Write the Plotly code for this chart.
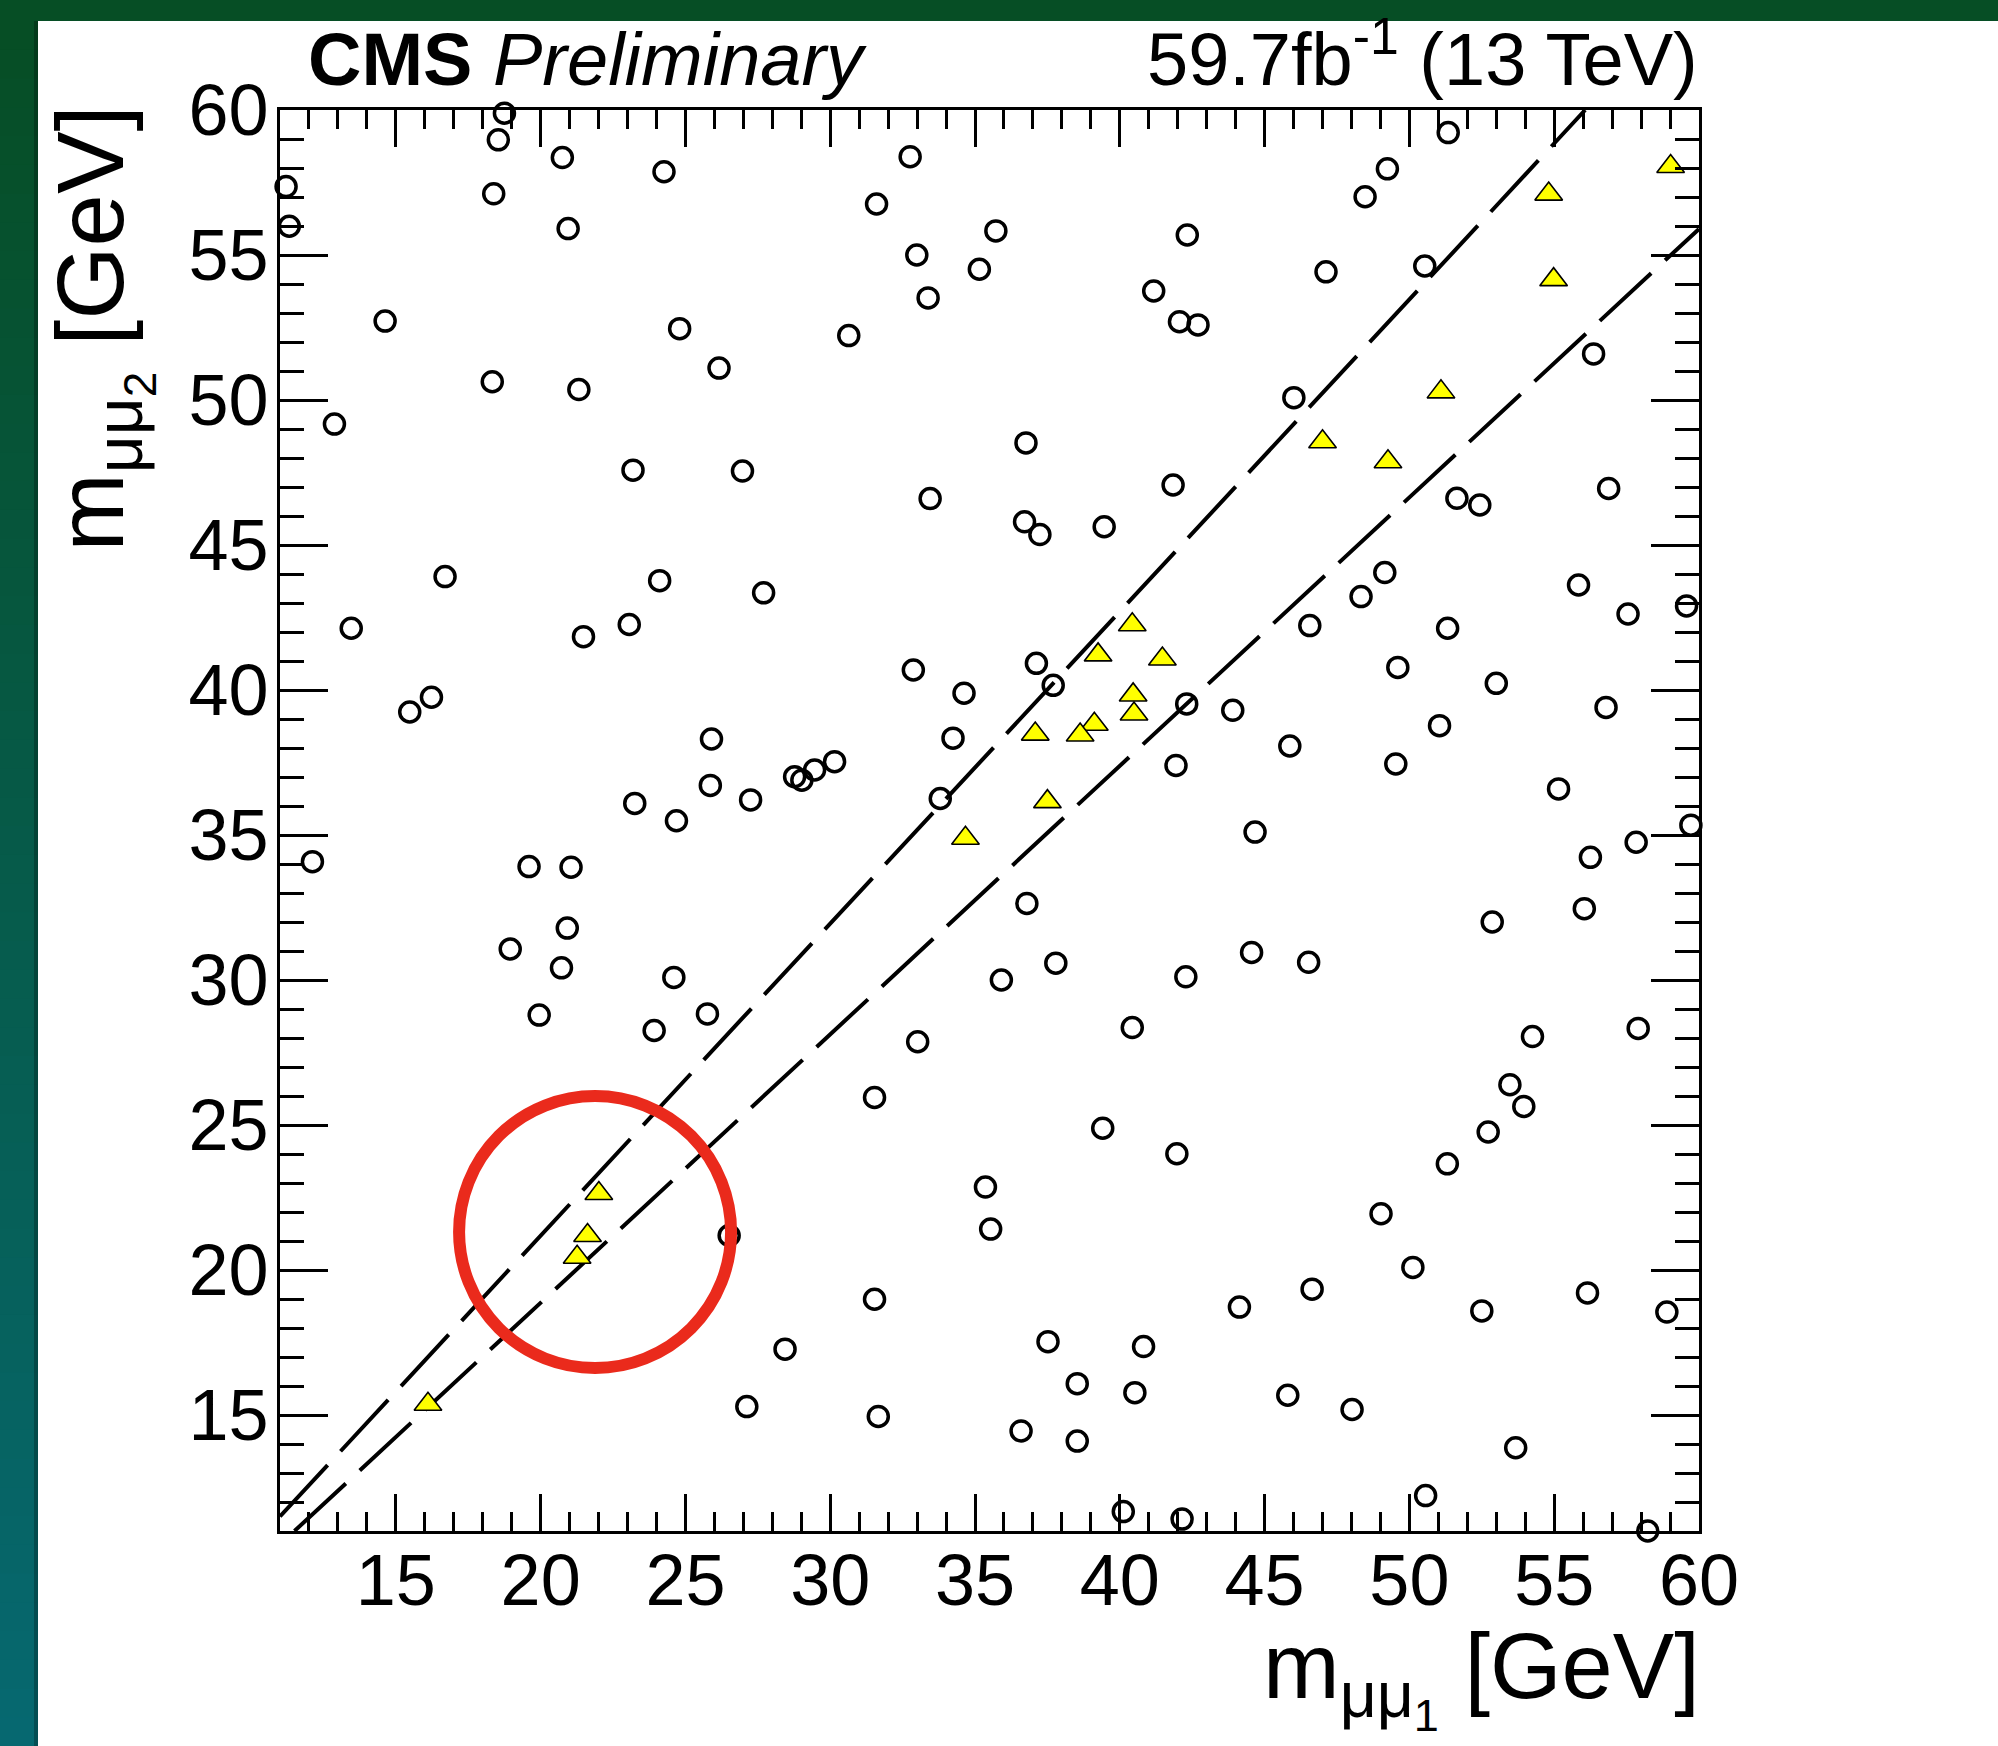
import plotly.graph_objects as go

# ---------------- data ----------------
# events outside the diagonal window: (m_mumu1, m_mumu2) in GeV
bkg_m1 = [18.75, 18.54, 20.75, 24.26, 11.21, 18.38, 11.32, 20.95, 14.63, 24.80,
          26.16, 18.33, 21.32, 12.88, 23.19, 26.97, 16.70, 24.11,
          32.76, 31.60, 35.72, 32.99, 35.15, 33.38, 30.64, 42.33, 41.17, 42.06,
          42.70, 36.76, 33.45, 36.71, 37.24, 39.46, 41.84, 27.70,
          51.34, 49.24, 48.47, 47.12, 50.53, 46.01, 56.36, 51.64, 52.43, 56.88,
          49.15, 55.84,
          13.46, 21.48, 23.06, 16.23, 15.48, 25.90, 25.86, 27.25, 23.25, 24.69,
          12.12, 19.60, 21.05, 20.92, 18.95, 20.72, 24.60, 19.95, 25.76, 23.92,
          32.87, 34.62, 37.12, 37.70, 42.31, 43.90, 34.24, 30.15, 29.46, 29.02,
          28.77, 33.80, 41.94, 36.79, 37.79, 35.91, 42.28, 40.43, 33.02,
          48.33, 59.57, 57.55, 46.56, 51.32, 49.60, 53.00, 56.79, 51.04, 45.87,
          49.53, 55.15, 59.72, 57.83, 56.25, 44.67, 56.04, 52.86, 44.55, 46.52,
          54.25, 57.90,
          31.53, 39.41, 35.36, 35.54, 26.51, 31.53, 28.44, 27.12, 31.66, 37.52,
          38.53, 36.59, 38.53, 40.12, 40.52, 40.82, 41.97, 53.47, 53.95, 52.72,
          51.31, 49.02, 50.12, 44.13, 46.64, 52.50, 56.15, 58.89, 45.80, 48.02,
          53.67, 50.56, 42.15, 58.23]
bkg_m2 = [59.89, 58.97, 58.36, 57.87, 57.36, 57.11, 55.99, 55.91, 52.72, 52.46,
          51.10, 50.63, 50.36, 49.17, 47.58, 47.55, 43.91, 43.77,
          58.39, 56.76, 55.83, 55.00, 54.51, 53.52, 52.22, 55.69, 53.76, 52.70,
          52.59, 48.52, 46.60, 45.80, 45.36, 45.63, 47.07, 43.35,
          59.22, 57.97, 57.01, 54.42, 54.62, 50.08, 51.59, 46.61, 46.38, 46.95,
          44.05, 43.62,
          42.13, 41.84, 42.26, 39.75, 39.24, 38.31, 36.71, 36.21, 36.09, 35.49,
          34.08, 33.91, 33.89, 31.79, 31.07, 30.42, 30.09, 28.79, 28.83, 28.26,
          40.69, 39.89, 40.92, 40.16, 39.52, 39.30, 38.34, 37.53, 37.24, 36.89,
          37.01, 36.26, 37.40, 32.64, 30.58, 30.00, 30.11, 28.36, 27.87,
          43.22, 42.90, 42.62, 42.22, 42.13, 40.78, 40.23, 39.40, 38.77, 38.07,
          37.45, 36.59, 35.34, 34.75, 34.23, 35.10, 32.46, 32.00, 30.95, 30.61,
          28.05, 28.33,
          25.95, 24.89, 22.86, 21.41, 21.19, 18.99, 17.27, 15.29, 14.95, 17.53,
          16.08, 14.45, 14.10, 11.67, 15.77, 17.36, 24.01, 26.39, 25.64, 24.76,
          23.66, 21.94, 20.09, 18.72, 19.34, 18.59, 19.21, 18.55, 15.68, 15.19,
          13.87, 12.22, 11.41, 11.00]

# events inside the diagonal window
sig_m1 = [59.02, 54.81, 54.98, 51.09, 47.00, 49.26, 40.43, 39.25, 41.47, 40.46,
          40.49, 39.12, 38.63, 37.08, 37.50, 34.67, 22.01, 21.62, 21.26, 16.11]
sig_m2 = [58.05, 57.10, 54.15, 50.28, 48.56, 47.87, 42.25, 41.21, 41.07, 39.83,
          39.17, 38.82, 38.45, 38.48, 36.15, 34.89, 22.64, 21.19, 20.44, 15.37]

# boundaries of the diagonal window (end points inside the frame)
upper_m1 = [11.0, 56.07]
upper_m2 = [11.5, 60.0]
lower_m1 = [11.5, 60.0]
lower_m2 = [11.0, 55.9]

axis_range = [11, 60]
tick_vals = [15, 20, 25, 30, 35, 40, 45, 50, 55, 60]

# highlighted region (centre in GeV)
ring_m1 = 21.88
ring_m2 = 21.31

# ---------------- geometry helpers ----------------
W, H = 1998, 1746
PL, PR, PT, PB = 280, 1699, 110, 1531


def xp(px):
    return (px - PL) / (PR - PL)


def yp(py):
    return (PB - py) / (PB - PT)


FONT = "Liberation Sans"

fig = go.Figure()

dash_style = dict(color="black", width=4, dash="70px,19px")
fig.add_trace(go.Scatter(x=upper_m1, y=upper_m2, mode="lines", line=dash_style,
                         hoverinfo="skip", showlegend=False))
fig.add_trace(go.Scatter(x=lower_m1, y=lower_m2, mode="lines", line=dash_style,
                         hoverinfo="skip", showlegend=False))

fig.add_trace(go.Scatter(
    x=bkg_m1, y=bkg_m2, mode="markers", cliponaxis=False, showlegend=False,
    marker=dict(symbol="circle-open", size=20, color="black",
                line=dict(color="black", width=3.5))))

fig.add_trace(go.Scatter(
    x=sig_m1, y=sig_m2, mode="markers", cliponaxis=False, showlegend=False,
    marker=dict(symbol="triangle-up", size=24, color="#ffff00",
                line=dict(color="black", width=1.6))))

# ---------------- page frame ----------------
shapes = []
top_col = (6, 78, 37)
bot_col = (6, 104, 112)
band_w = 38
band_top = 21
n_strip = 60
for i in range(n_strip):
    t = i / (n_strip - 1)
    c = tuple(round(top_col[k] + (bot_col[k] - top_col[k]) * t) for k in range(3))
    y0 = band_top + (H - band_top) * i / n_strip
    y1 = band_top + (H - band_top) * (i + 1) / n_strip + 1
    shapes.append(dict(type="rect", xref="paper", yref="paper",
                       x0=xp(0), x1=xp(band_w), y0=yp(y1), y1=yp(y0),
                       fillcolor="rgb(%d,%d,%d)" % c, line=dict(width=0),
                       layer="below"))
shapes.append(dict(type="rect", xref="paper", yref="paper",
                   x0=xp(0), x1=xp(W), y0=yp(band_top), y1=yp(0),
                   fillcolor="rgb(%d,%d,%d)" % top_col, line=dict(width=0),
                   layer="below"))
shapes.append(dict(type="rect", xref="paper", yref="paper",
                   x0=xp(band_w - 4), x1=xp(band_w), y0=yp(H), y1=yp(band_top),
                   fillcolor="rgba(0,0,0,0.25)", line=dict(width=0),
                   layer="below"))

# red ring around the low-mass candidates
shapes.append(dict(type="circle", xref="x", yref="y",
                   xsizemode="pixel", ysizemode="pixel",
                   xanchor=ring_m1, yanchor=ring_m2,
                   x0=-136, x1=136, y0=-136, y1=136,
                   line=dict(color="#ea2a1c", width=12), layer="above"))

# ---------------- text ----------------
mu = "μ"
annotations = [
    dict(text="<b>CMS</b> <i>Preliminary</i>", xref="paper", yref="paper",
         x=xp(306), y=yp(16), xanchor="left", yanchor="top", showarrow=False,
         font=dict(family=FONT, size=74, color="black")),
    dict(text="59.7fb<sup>-1</sup> (13 TeV)", xref="paper", yref="paper",
         x=xp(1700), y=yp(103), xanchor="right", yanchor="bottom", showarrow=False,
         font=dict(family=FONT, size=74, color="black")),
    dict(text="m<sub>%s%s<sub>1</sub></sub> [GeV]" % (mu, mu), xref="paper", yref="paper",
         x=xp(1702), y=yp(1613), xanchor="right", yanchor="top", showarrow=False,
         font=dict(family=FONT, size=92, color="black")),
    dict(text="m<sub>%s%s<sub>2</sub></sub> [GeV]" % (mu, mu), xref="paper", yref="paper",
         x=xp(36), y=yp(104), xanchor="left", yanchor="top", showarrow=False,
         textangle=-90, font=dict(family=FONT, size=94, color="black")),
]

axis_common = dict(
    range=axis_range, tickvals=tick_vals, ticks="inside", tickwidth=2.5,
    tickcolor="black", showline=True, linewidth=3, linecolor="black",
    mirror="allticks", showgrid=False, zeroline=False,
    tickfont=dict(family=FONT, size=72, color="black"),
)

fig.update_layout(
    width=W, height=H,
    margin=dict(l=PL, r=W - PR, t=PT, b=H - PB, pad=0),
    paper_bgcolor="white", plot_bgcolor="white",
    xaxis=dict(axis_common, ticklen=37, ticklabelstandoff=-15,
               minor=dict(dtick=1, tick0=11, ticks="inside", ticklen=19,
                          tickwidth=2.5, tickcolor="black", showgrid=False)),
    yaxis=dict(axis_common, ticklen=48, ticklabelstandoff=-6,
               minor=dict(dtick=1, tick0=11, ticks="inside", ticklen=24,
                          tickwidth=2.5, tickcolor="black", showgrid=False)),
    shapes=shapes, annotations=annotations, showlegend=False,
)

fig.write_html("out.html")
